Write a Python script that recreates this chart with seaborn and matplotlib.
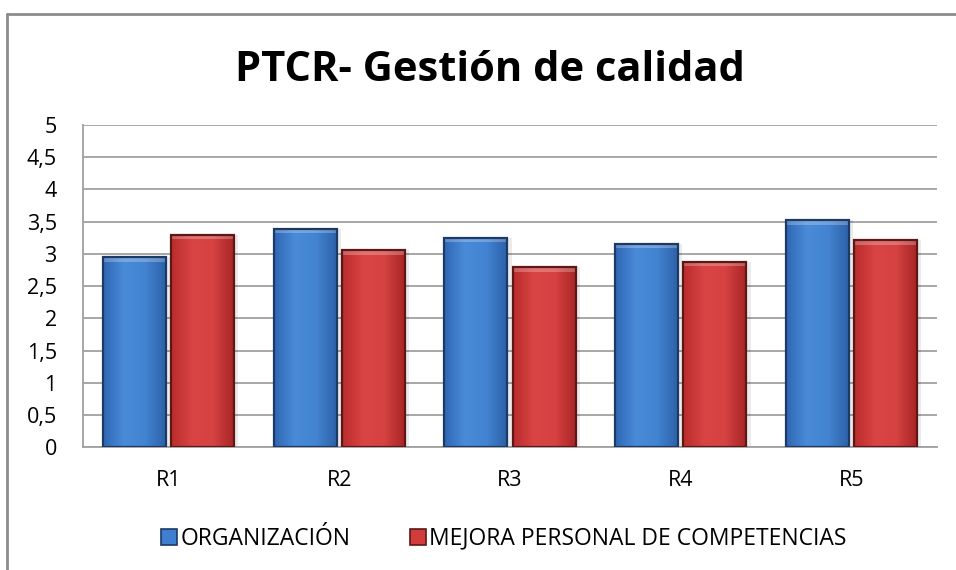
import numpy as np
import pandas as pd
import matplotlib
matplotlib.use("Agg")
import matplotlib.pyplot as plt
import seaborn as sns
from matplotlib.colors import LinearSegmentedColormap
from matplotlib.patches import Rectangle

# ── Data ───────────────────────────────────────────────
CATEGORIES = ["R1", "R2", "R3", "R4", "R5"]
SERIES = ["ORGANIZACIÓN", "MEJORA PERSONAL DE COMPETENCIAS"]
ORGANIZACION = [2.95, 3.39, 3.25, 3.16, 3.52]
MEJORA = [3.30, 3.06, 2.79, 2.88, 3.21]
Y_TICKS = [0, 0.5, 1, 1.5, 2, 2.5, 3, 3.5, 4, 4.5, 5]
Y_LABELS = ["0", "0,5", "1", "1,5", "2", "2,5", "3", "3,5", "4", "4,5", "5"]
TITLE = "PTCR- Gestión de calidad"

# ── Style ──────────────────────────────────────────────
sns.set_style("white")
plt.rcParams["font.family"] = ["Open Sans", "DejaVu Sans"]
plt.rcParams["text.color"] = "black"
plt.rcParams["xtick.color"] = "black"
plt.rcParams["ytick.color"] = "black"
BLUE, BLUE_EDGE = "#3f7fcf", "#1c3a63"
RED, RED_EDGE = "#d23c3c", "#5e1717"

df = pd.DataFrame({
    "cat": CATEGORIES * 2,
    "serie": [SERIES[0]] * 5 + [SERIES[1]] * 5,
    "valor": ORGANIZACION + MEJORA,
})

fig = plt.figure(figsize=(9.56, 5.7), dpi=100)
ax = fig.add_axes([0.087, 0.215, 0.893, 0.566])

sns.barplot(data=df, x="cat", y="valor", hue="serie", order=CATEGORIES,
            hue_order=SERIES, palette=[BLUE, RED], width=0.8, gap=0.08,
            saturation=1, ax=ax, legend=False, zorder=3)

# bevel-ish look: dark edge + horizontal gradient clipped to each bar
grads = {
    BLUE: LinearSegmentedColormap.from_list("b", ["#2f68b5", "#4a8bd8", "#4384d2", "#2d62aa"]),
    RED: LinearSegmentedColormap.from_list("r", ["#bb2c2c", "#d94444", "#d64242", "#aa2626"]),
}
grad = np.linspace(0, 1, 64).reshape(1, -1)
for i, p in enumerate(ax.patches):
    is_blue = i < len(CATEGORIES)
    p.set_edgecolor(BLUE_EDGE if is_blue else RED_EDGE)
    p.set_linewidth(1.6)
    x0, y0 = p.get_x(), p.get_y()
    w, h = p.get_width(), p.get_height()
    # soft shadow to the right
    ax.add_patch(Rectangle((x0 + w, y0), 0.025, h, color="#000000", alpha=0.08,
                           lw=0, zorder=2))
    im = ax.imshow(grad, extent=[x0, x0 + w, y0, y0 + h], aspect="auto",
                   cmap=grads[BLUE if is_blue else RED], zorder=3.5)
    im.set_clip_path(p)
    # top highlight strip
    hl = ax.add_patch(Rectangle((x0, y0 + h - 0.07), w, 0.07, color="white",
                                alpha=0.25, lw=0, zorder=3.6))
    hl.set_clip_path(p)
    p.set_zorder(3.7)
    p.set_facecolor("none")

ax.set_xlim(-0.5, 4.5)
ax.set_ylim(0, 5)
ax.set_yticks(Y_TICKS, Y_LABELS)
ax.yaxis.grid(True, color="#a0a0a0", linewidth=1.3, zorder=0)
ax.set_axisbelow(True)
ax.set_xlabel("")
ax.set_ylabel("")
for s in ["top", "right"]:
    ax.spines[s].set_visible(False)
for s in ["left", "bottom"]:
    ax.spines[s].set_color("#a0a0a0")
    ax.spines[s].set_linewidth(1.3)
ax.tick_params(axis="y", length=0, labelsize=15.5, pad=19)
ax.tick_params(axis="x", length=0, labelsize=15.5, pad=16)

fig.text(0.513, 0.877, TITLE, ha="center", va="center", fontsize=30,
         fontweight="bold")

handles = [Rectangle((0, 0), 1, 1, facecolor=BLUE, edgecolor=BLUE_EDGE, lw=1.2),
           Rectangle((0, 0), 1, 1, facecolor=RED, edgecolor=RED_EDGE, lw=1.2)]
fig.legend(handles, SERIES, loc="center", bbox_to_anchor=(0.527, 0.055), ncol=2,
           frameon=False, fontsize=16.5, handlelength=0.7, handleheight=0.7,
           handletextpad=0.15, columnspacing=2.6)

# outer chart border (only top and left visible in the reference)
fig.add_artist(plt.Line2D([0.0075, 1.0], [0.9755, 0.9755], color="#8c8c8c", lw=2,
                          transform=fig.transFigure))
fig.add_artist(plt.Line2D([0.0075, 0.0075], [0.0, 0.9755], color="#8c8c8c", lw=2,
                          transform=fig.transFigure))

fig.savefig("out.png", dpi=100)
